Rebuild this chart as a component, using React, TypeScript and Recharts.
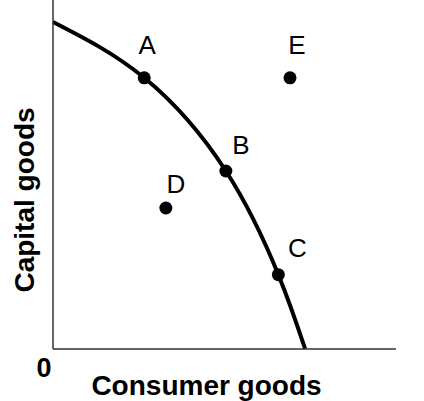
import { ComposedChart, Line, Scatter, XAxis, YAxis } from "recharts";

// production possibilities frontier
const curveX = [0, 2.66, 5.04, 6.57, 7.35];
const curveY = [9.37, 7.77, 5.1, 2.13, 0];

const pointNames = ["A", "B", "C", "D", "E"];
const pointX = [2.66, 5.04, 6.57, 3.29, 6.91];
const pointY = [7.77, 5.1, 2.13, 4.04, 7.77];

const originTicks = [0];

const curve = curveX.map((x, i) => ({ x, y: curveY[i] }));
const points = pointNames.map((name, i) => ({ name, x: pointX[i], y: pointY[i] }));

// where each letter sits relative to its dot
const LABEL_OFFSET: Record<string, [number, number]> = {
  A: [3, -24],
  B: [15, -17],
  C: [19, -18],
  D: [10, -15],
  E: [7, -24],
};

const FONT = "'Liberation Sans', Arial, sans-serif";

function Dot(props: any) {
  const { cx, cy, payload } = props;
  const [dx, dy] = LABEL_OFFSET[payload.name] ?? [0, -20];
  return (
    <g>
      <circle cx={cx} cy={cy} r={6.5} fill="#000" />
      <text x={cx + dx} y={cy + dy} textAnchor="middle" fontFamily={FONT} fontSize={26} fill="#000">
        {payload.name}
      </text>
    </g>
  );
}

function OriginTick(props: any) {
  const { x, y, payload } = props;
  return (
    <text x={x - 9} y={y + 20} textAnchor="middle" fontFamily={FONT} fontSize={27} fontWeight="bold" fill="#000">
      {payload.value}
    </text>
  );
}

function XLabel(props: any) {
  const vb = props.viewBox;
  return (
    <text x={vb.x + vb.width / 2 - 18} y={vb.y + vb.height - 6} textAnchor="middle" fontFamily={FONT} fontSize={28} fontWeight="bold" fill="#000">
      Consumer goods
    </text>
  );
}

function YLabel() {
  const cx = 34;
  const cy = 200;
  return (
    <text x={cx} y={cy} transform={`rotate(-90, ${cx}, ${cy})`} textAnchor="middle" fontFamily={FONT} fontSize={28} fontWeight="bold" fill="#000">
      Capital goods
    </text>
  );
}

export default function App() {
  return (
    <div style={{ width: 424, height: 401, background: "#fff" }}>
      <style>{`body{margin:0}`}</style>
      <ComposedChart width={424} height={401} margin={{ top: 0, right: 28, bottom: 0, left: 0 }}>
        <XAxis
          type="number"
          dataKey="x"
          domain={[0, 10]}
          ticks={originTicks}
          tick={<OriginTick />}
          tickLine={false}
          axisLine={{ stroke: "#333", strokeWidth: 1.5 }}
          height={52}
          label={<XLabel />}
        />
        <YAxis
          type="number"
          dataKey="y"
          domain={[0, 10]}
          tick={false}
          tickLine={false}
          axisLine={{ stroke: "#333", strokeWidth: 1.5 }}
          width={53}
          label={<YLabel />}
        />
        <Line
          data={curve}
          dataKey="y"
          type="natural"
          stroke="#000"
          strokeWidth={4}
          dot={false}
          activeDot={false}
          isAnimationActive={false}
        />
        <Scatter data={points} dataKey="y" shape={<Dot />} isAnimationActive={false} />
      </ComposedChart>
    </div>
  );
}
